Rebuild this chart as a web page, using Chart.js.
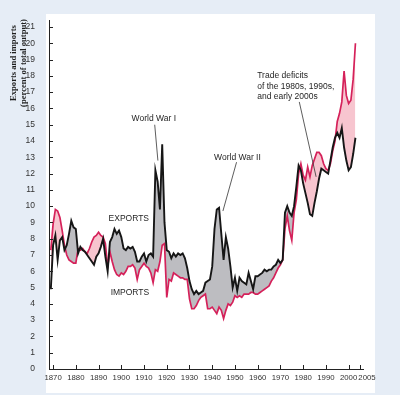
<!DOCTYPE html>
<html>
<head>
<meta charset="utf-8">
<script src="https://cdn.jsdelivr.net/npm/chart.js@4.4.0/dist/chart.umd.min.js"></script>
<style>
  html, body { margin: 0; padding: 0; background: #e6edf6; }
  #wrap { width: 400px; height: 395px; }
</style>
</head>
<body>
<div id="wrap"><canvas id="c" width="400" height="395"></canvas></div>
<script>
// annual values, percent of total output, starting 1869
const START_YEAR = 1869;
const EXPORTS = [
  4.9,
  7.6, 8.2, 6.7, 7.9, 8.1, 7.3, 7.6, 8.3, 9.1, 8.7,
  8.6, 7.1, 7.5, 7.3, 7.2, 7.0, 6.8, 6.6, 6.4, 6.9,
  7.1, 7.5, 8.0, 6.9, 6.0, 7.8, 8.1, 8.6, 8.3, 8.5,
  8.1, 7.4, 7.3, 7.5, 7.4, 7.5, 7.2, 6.6, 6.6, 6.9,
  7.1, 6.6, 7.0, 7.1, 6.9, 12.2, 11.5, 9.8, 13.8, 9.0,
  7.3, 7.2, 6.8, 7.1, 6.9, 7.1, 7.0, 7.1, 6.8, 6.2,
  5.4, 4.9, 4.6, 4.8, 4.6, 4.7, 4.8, 5.3, 5.4, 5.5,
  6.3, 8.6, 9.8, 9.9, 8.3, 6.7, 8.1, 7.4, 6.3, 5.0,
  5.6, 4.8, 5.6, 5.4, 5.3, 5.2, 5.9, 5.4, 4.9, 5.7,
  5.7, 5.8, 5.9, 6.1, 6.0, 6.1, 6.1, 6.3, 6.4, 6.7,
  6.5, 6.7, 9.6, 10.0, 9.6, 9.4, 10.0, 11.2, 12.5, 12.2,
  11.4, 10.8, 10.2, 9.5, 9.4, 10.2, 10.9, 11.7, 12.3, 12.2,
  12.1, 12.0, 12.8, 13.6, 14.2, 14.5, 14.2, 14.8, 13.6, 12.8,
  12.2, 12.4, 13.2, 14.2
];
const IMPORTS = [
  7.3,
  8.9, 9.8, 9.7, 9.3, 8.5, 7.6, 7.0, 6.7, 6.6, 6.5,
  6.5, 7.4, 7.3, 7.4, 7.2, 7.1, 7.4, 7.8, 8.1, 8.2,
  8.4, 8.2, 8.1, 7.7, 6.3, 7.2, 6.6, 6.1, 5.8, 5.7,
  5.9, 5.8, 6.0, 6.3, 6.3, 6.4, 6.2, 5.5, 6.1, 6.3,
  6.5, 6.3, 6.2, 5.9, 5.3, 6.1, 6.0, 6.6, 7.6, 7.7,
  4.4, 5.5, 5.4, 5.9, 5.8, 5.7, 5.6, 5.6, 5.5, 5.5,
  4.3, 3.7, 3.7, 3.9, 4.2, 4.4, 4.5, 4.6, 3.7, 3.7,
  3.8, 3.6, 3.4, 3.8, 3.6, 3.1, 3.6, 4.0, 3.9, 4.1,
  4.5, 4.4, 4.5, 4.4, 4.6, 4.6, 4.6, 4.7, 4.7, 4.6,
  4.6, 4.7, 4.8, 4.9, 5.0, 5.1, 5.4, 5.6, 5.9, 6.2,
  6.4, 6.7, 8.6, 9.4, 8.5, 7.9, 9.6, 10.4, 12.0, 12.6,
  11.9, 11.6, 12.4, 11.8, 12.5, 12.9, 13.3, 13.3, 13.1, 12.6,
  12.3, 12.2, 12.6, 13.4, 14.0, 15.2, 15.7, 16.4, 18.3, 16.8,
  16.3, 16.5, 17.8, 20.0
];
const YEARS = EXPORTS.map((_, i) => START_YEAR + i);
const X_TICKS = [1870, 1880, 1890, 1900, 1910, 1920, 1930, 1940, 1950, 1960, 1970, 1980, 1990, 2000, 2005];
const Y_TICKS = [0, 1, 2, 3, 4, 5, 6, 7, 8, 9, 10, 11, 12, 13, 14, 15, 16, 17, 18, 19, 20, 21];
const Y_TITLE = ['Exports and imports', '(percent of total output)'];

// labels placed in data coordinates (year, percent)
const NOTES = [
  { text: 'World War I', x: 1914.3, y: 15.4, align: 'center' },
  { text: 'World War II', x: 1951.1, y: 13.0, align: 'center' },
  { text: 'Trade deficits', x: 1959.8, y: 18.0, align: 'left' },
  { text: 'of the 1980s, 1990s,', x: 1959.8, y: 17.35, align: 'left' },
  { text: 'and early 2000s', x: 1959.8, y: 16.72, align: 'left' },
  { text: 'EXPORTS', x: 1903.3, y: 9.25, align: 'center' },
  { text: 'IMPORTS', x: 1903.8, y: 4.7, align: 'center' }
];
const LEADERS = [
  [1914.7, 15.0, 1916.1, 12.8],
  [1950.7, 12.7, 1944.7, 9.7],
  [1978.3, 16.4, 1985.7, 11.8]
];

const FONT = '"Liberation Sans", Arial, sans-serif';

const paper = {
  id: 'paper',
  beforeDraw(chart) {
    const ctx = chart.ctx;
    ctx.save();
    ctx.fillStyle = '#e6edf6';
    ctx.fillRect(0, 0, chart.width, chart.height);
    ctx.fillStyle = '#ffffff';
    ctx.fillRect(46, 14, 329, 379);
    ctx.restore();
  }
};

const extras = {
  id: 'extras',
  afterDraw(chart) {
    const { ctx, scales: { x, y } } = chart;
    ctx.save();
    // tick marks pointing into the plot
    ctx.strokeStyle = '#222';
    ctx.lineWidth = 1;
    ctx.beginPath();
    x.ticks.forEach(t => {
      const px = Math.round(x.getPixelForValue(t.value)) + 0.5;
      ctx.moveTo(px, y.bottom); ctx.lineTo(px, y.bottom - 4);
    });
    y.ticks.forEach(t => {
      const py = Math.round(y.getPixelForValue(t.value)) + 0.5;
      ctx.moveTo(x.left, py); ctx.lineTo(x.left + 4, py);
    });
    ctx.stroke();

    // x labels; the last one is nudged right so it clears 2000
    ctx.fillStyle = '#333';
    ctx.font = '7.8px ' + FONT;
    ctx.textAlign = 'center';
    ctx.textBaseline = 'top';
    x.ticks.forEach(t => {
      const nudge = t.value === 2005 ? 7 : 0;
      ctx.fillText(String(t.value), x.getPixelForValue(t.value) + nudge, y.bottom + 5);
    });

    // leader lines
    ctx.strokeStyle = '#333';
    ctx.lineWidth = 0.8;
    ctx.beginPath();
    LEADERS.forEach(l => {
      ctx.moveTo(x.getPixelForValue(l[0]), y.getPixelForValue(l[1]));
      ctx.lineTo(x.getPixelForValue(l[2]), y.getPixelForValue(l[3]));
    });
    ctx.stroke();

    // notes
    ctx.fillStyle = '#1e1e1e';
    ctx.font = '8.5px ' + FONT;
    ctx.textBaseline = 'middle';
    NOTES.forEach(n => {
      ctx.textAlign = n.align;
      ctx.fillText(n.text, x.getPixelForValue(n.x), y.getPixelForValue(n.y));
    });

    // y axis title, two rotated lines
    ctx.font = 'bold 8.6px "Liberation Serif", "Times New Roman", serif';
    ctx.textAlign = 'center';
    Y_TITLE.forEach((t, i) => {
      ctx.save();
      ctx.translate(14 + i * 10, 63);
      ctx.rotate(-Math.PI / 2);
      ctx.fillText(t, 0, 0);
      ctx.restore();
    });
    ctx.restore();
  }
};

new Chart(document.getElementById('c'), {
  type: 'line',
  data: {
    datasets: [
      {
        label: 'Exports',
        data: YEARS.map((yr, i) => ({ x: yr, y: EXPORTS[i] })),
        borderColor: '#161616',
        borderWidth: 1.9,
        pointRadius: 0,
        tension: 0,
        fill: { target: 1, above: '#bdbdc1', below: '#f7c5cf' }
      },
      {
        label: 'Imports',
        data: YEARS.map((yr, i) => ({ x: yr, y: IMPORTS[i] })),
        borderColor: '#d5215a',
        borderWidth: 1.7,
        pointRadius: 0,
        tension: 0,
        fill: false
      }
    ]
  },
  options: {
    responsive: false,
    animation: false,
    devicePixelRatio: 1,
    layout: { padding: { top: 20.5, right: 36.6, bottom: 0, left: 0 } },
    plugins: {
      legend: { display: false },
      tooltip: { enabled: false },
      filler: { drawTime: 'beforeDatasetsDraw' }
    },
    scales: {
      x: {
        type: 'linear',
        min: 1868.2,
        max: 2006.5,
        afterBuildTicks: s => { s.ticks = X_TICKS.map(v => ({ value: v })); },
        afterFit: s => { s.height = 26; },
        grid: { display: false },
        border: { display: true, color: '#222', width: 1 },
        ticks: { display: false }
      },
      y: {
        min: 0,
        max: 21.4,
        afterBuildTicks: s => { s.ticks = Y_TICKS.map(v => ({ value: v })); },
        afterFit: s => { s.width = 49; },
        grid: { display: false },
        border: { display: true, color: '#222', width: 1 },
        ticks: {
          color: '#333', padding: 6,
          font: { family: FONT, size: 8.5 },
          callback: v => String(v)
        }
      }
    }
  },
  plugins: [paper, extras]
});
</script>
</body>
</html>
